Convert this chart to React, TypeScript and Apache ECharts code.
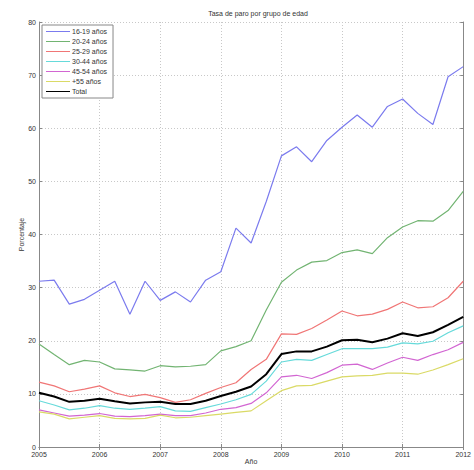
import React, { useEffect, useRef } from "react";
import * as echarts from "echarts";

const startYear = 2005;
const xTicks = [2005, 2006, 2007, 2008, 2009, 2010, 2011, 2012];
const yTicks = [0, 10, 20, 30, 40, 50, 60, 70, 80];

const seriesNames = ["16-19 años", "20-24 años", "25-29 años", "30-44 años", "45-54 años", "+55 años", "Total"];

const s1619 = [31.2, 31.4, 26.9, 27.8, 29.5, 31.2, 25.0, 31.2, 27.6, 29.2, 27.3, 31.4, 33.0, 41.2, 38.4, 46.2, 54.8, 56.5, 53.7, 57.7, 60.2, 62.5, 60.2, 64.1, 65.5, 62.8, 60.7, 69.7, 71.6];
const s2024 = [19.4, 17.4, 15.5, 16.3, 16.0, 14.7, 14.5, 14.3, 15.3, 15.1, 15.2, 15.5, 18.1, 18.9, 20.0, 25.8, 31.0, 33.3, 34.8, 35.1, 36.6, 37.1, 36.4, 39.4, 41.4, 42.6, 42.5, 44.5, 48.1];
const s2529 = [12.2, 11.5, 10.4, 10.9, 11.5, 10.2, 9.5, 9.9, 9.3, 8.4, 8.9, 10.1, 11.2, 12.1, 14.6, 16.5, 21.3, 21.2, 22.3, 23.9, 25.6, 24.7, 25.0, 25.9, 27.3, 26.2, 26.4, 28.1, 31.2];
const s3044 = [8.7, 7.9, 7.0, 7.3, 7.8, 7.3, 7.1, 7.3, 7.6, 6.8, 6.7, 7.4, 8.1, 8.9, 9.9, 12.4, 16.0, 16.5, 16.3, 17.4, 18.5, 18.5, 18.5, 18.8, 19.6, 19.4, 19.9, 21.5, 22.8];
const s4554 = [7.0, 6.4, 5.8, 6.0, 6.3, 5.8, 5.7, 5.9, 6.2, 5.9, 5.9, 6.4, 7.1, 7.4, 8.2, 10.2, 13.2, 13.5, 12.9, 14.0, 15.4, 15.6, 14.6, 15.8, 16.9, 16.3, 17.4, 18.3, 19.7];
const s55 = [6.6, 6.2, 5.3, 5.6, 5.9, 5.4, 5.3, 5.4, 6.0, 5.5, 5.6, 5.9, 6.2, 6.5, 6.8, 8.7, 10.6, 11.5, 11.6, 12.4, 13.2, 13.4, 13.5, 13.9, 13.9, 13.7, 14.5, 15.5, 16.6];
const sTotal = [10.2, 9.5, 8.5, 8.7, 9.1, 8.6, 8.2, 8.4, 8.5, 8.1, 8.1, 8.7, 9.6, 10.4, 11.4, 13.7, 17.5, 18.0, 18.0, 18.9, 20.1, 20.2, 19.7, 20.4, 21.4, 20.9, 21.6, 23.0, 24.5];

const allSeries = [s1619, s2024, s2529, s3044, s4554, s55, sTotal];
const colors = ["#7b7bee", "#72b472", "#f07676", "#66dada", "#d266d2", "#dada66", "#000000"];
const widths = [1.2, 1.2, 1.2, 1.2, 1.2, 1.2, 2];

const FONT = "Liberation Sans, Arial, sans-serif";

export default function App() {
  const ref = useRef<HTMLDivElement>(null);
  useEffect(() => {
    if (!ref.current) return;
    const chart = echarts.init(ref.current, null, { renderer: "svg" });
    const axisColor = "#888";
    const labelStyle = { color: "#333", fontSize: 7, fontFamily: FONT };
    chart.setOption({
      animation: false,
      backgroundColor: "#ffffff",
      title: {
        text: "Tasa de paro por grupo de edad",
        left: 253,
        textAlign: "center",
        top: 5,
        textStyle: { fontSize: 7, fontWeight: "normal", color: "#333", fontFamily: FONT },
      },
      legend: {
        orient: "vertical",
        left: 42,
        top: 25,
        width: 73,
        padding: [3, 6, 3, 4],
        itemGap: 3,
        itemWidth: 24,
        itemHeight: 8,
        borderColor: "#888",
        borderWidth: 1,
        backgroundColor: "#ffffff",
        data: seriesNames.map((n) => ({
          name: n,
          icon: "path://M0,4 L24,4 L24,5 L0,5 Z",
          textStyle: { color: "#333" },
        })),
        textStyle: { fontSize: 7, color: "#333", fontFamily: FONT, padding: [0, 0, 0, -3] },
      },
      grid: { left: 39, right: 7, top: 22, bottom: 18 },
      xAxis: [
        {
          type: "value",
          min: xTicks[0],
          max: xTicks[xTicks.length - 1],
          interval: 1,
          name: "Año",
          nameLocation: "middle",
          nameGap: 11,
          nameMoveOverlap: false,
          nameTextStyle: { fontSize: 7, color: "#333", fontFamily: FONT },
          axisLine: { show: true, lineStyle: { color: axisColor, width: 1 } },
          axisTick: { show: true, inside: true, length: 3, lineStyle: { color: axisColor } },
          axisLabel: { ...labelStyle, margin: 4, formatter: (v: number) => String(v) },
          splitLine: { show: true, lineStyle: { color: "#c8c8c8", type: [1, 2], width: 1 } },
        },
        {
          type: "value",
          position: "top",
          min: xTicks[0],
          max: xTicks[xTicks.length - 1],
          interval: 1,
          axisLine: { show: true, lineStyle: { color: axisColor, width: 1 } },
          axisTick: { show: true, inside: true, length: 3, lineStyle: { color: axisColor } },
          axisLabel: { show: false },
          splitLine: { show: false },
        },
      ],
      yAxis: [
        {
          type: "value",
          min: yTicks[0],
          max: yTicks[yTicks.length - 1],
          interval: 10,
          name: "Porcentaje",
          nameLocation: "middle",
          nameGap: 14,
          nameMoveOverlap: false,
          nameRotate: 90,
          nameTextStyle: { fontSize: 7, color: "#333", fontFamily: FONT },
          axisLine: { show: true, lineStyle: { color: axisColor, width: 1 } },
          axisTick: { show: true, inside: true, length: 3, lineStyle: { color: axisColor } },
          axisLabel: { ...labelStyle, margin: 3 },
          splitLine: { show: true, lineStyle: { color: "#c8c8c8", type: [1, 2], width: 1 } },
        },
        {
          type: "value",
          position: "right",
          min: yTicks[0],
          max: yTicks[yTicks.length - 1],
          interval: 10,
          axisLine: { show: true, lineStyle: { color: axisColor, width: 1 } },
          axisTick: { show: true, inside: true, length: 3, lineStyle: { color: axisColor } },
          axisLabel: { show: false },
          splitLine: { show: false },
        },
      ],
      series: allSeries.map((vals, k) => ({
        name: seriesNames[k],
        type: "line",
        xAxisIndex: 0,
        yAxisIndex: 0,
        data: vals.map((v, i) => [startYear + i * 0.25, v]),
        showSymbol: false,
        symbol: "none",
        lineStyle: { color: colors[k], width: widths[k] },
        itemStyle: { color: colors[k] },
        z: k === 6 ? 3 : 2,
      })),
    });
    return () => chart.dispose();
  }, []);
  return (
    <div style={{ position: "absolute", left: 0, top: 0 }}>
      <div ref={ref} style={{ width: 474, height: 470 }} />
    </div>
  );
}
